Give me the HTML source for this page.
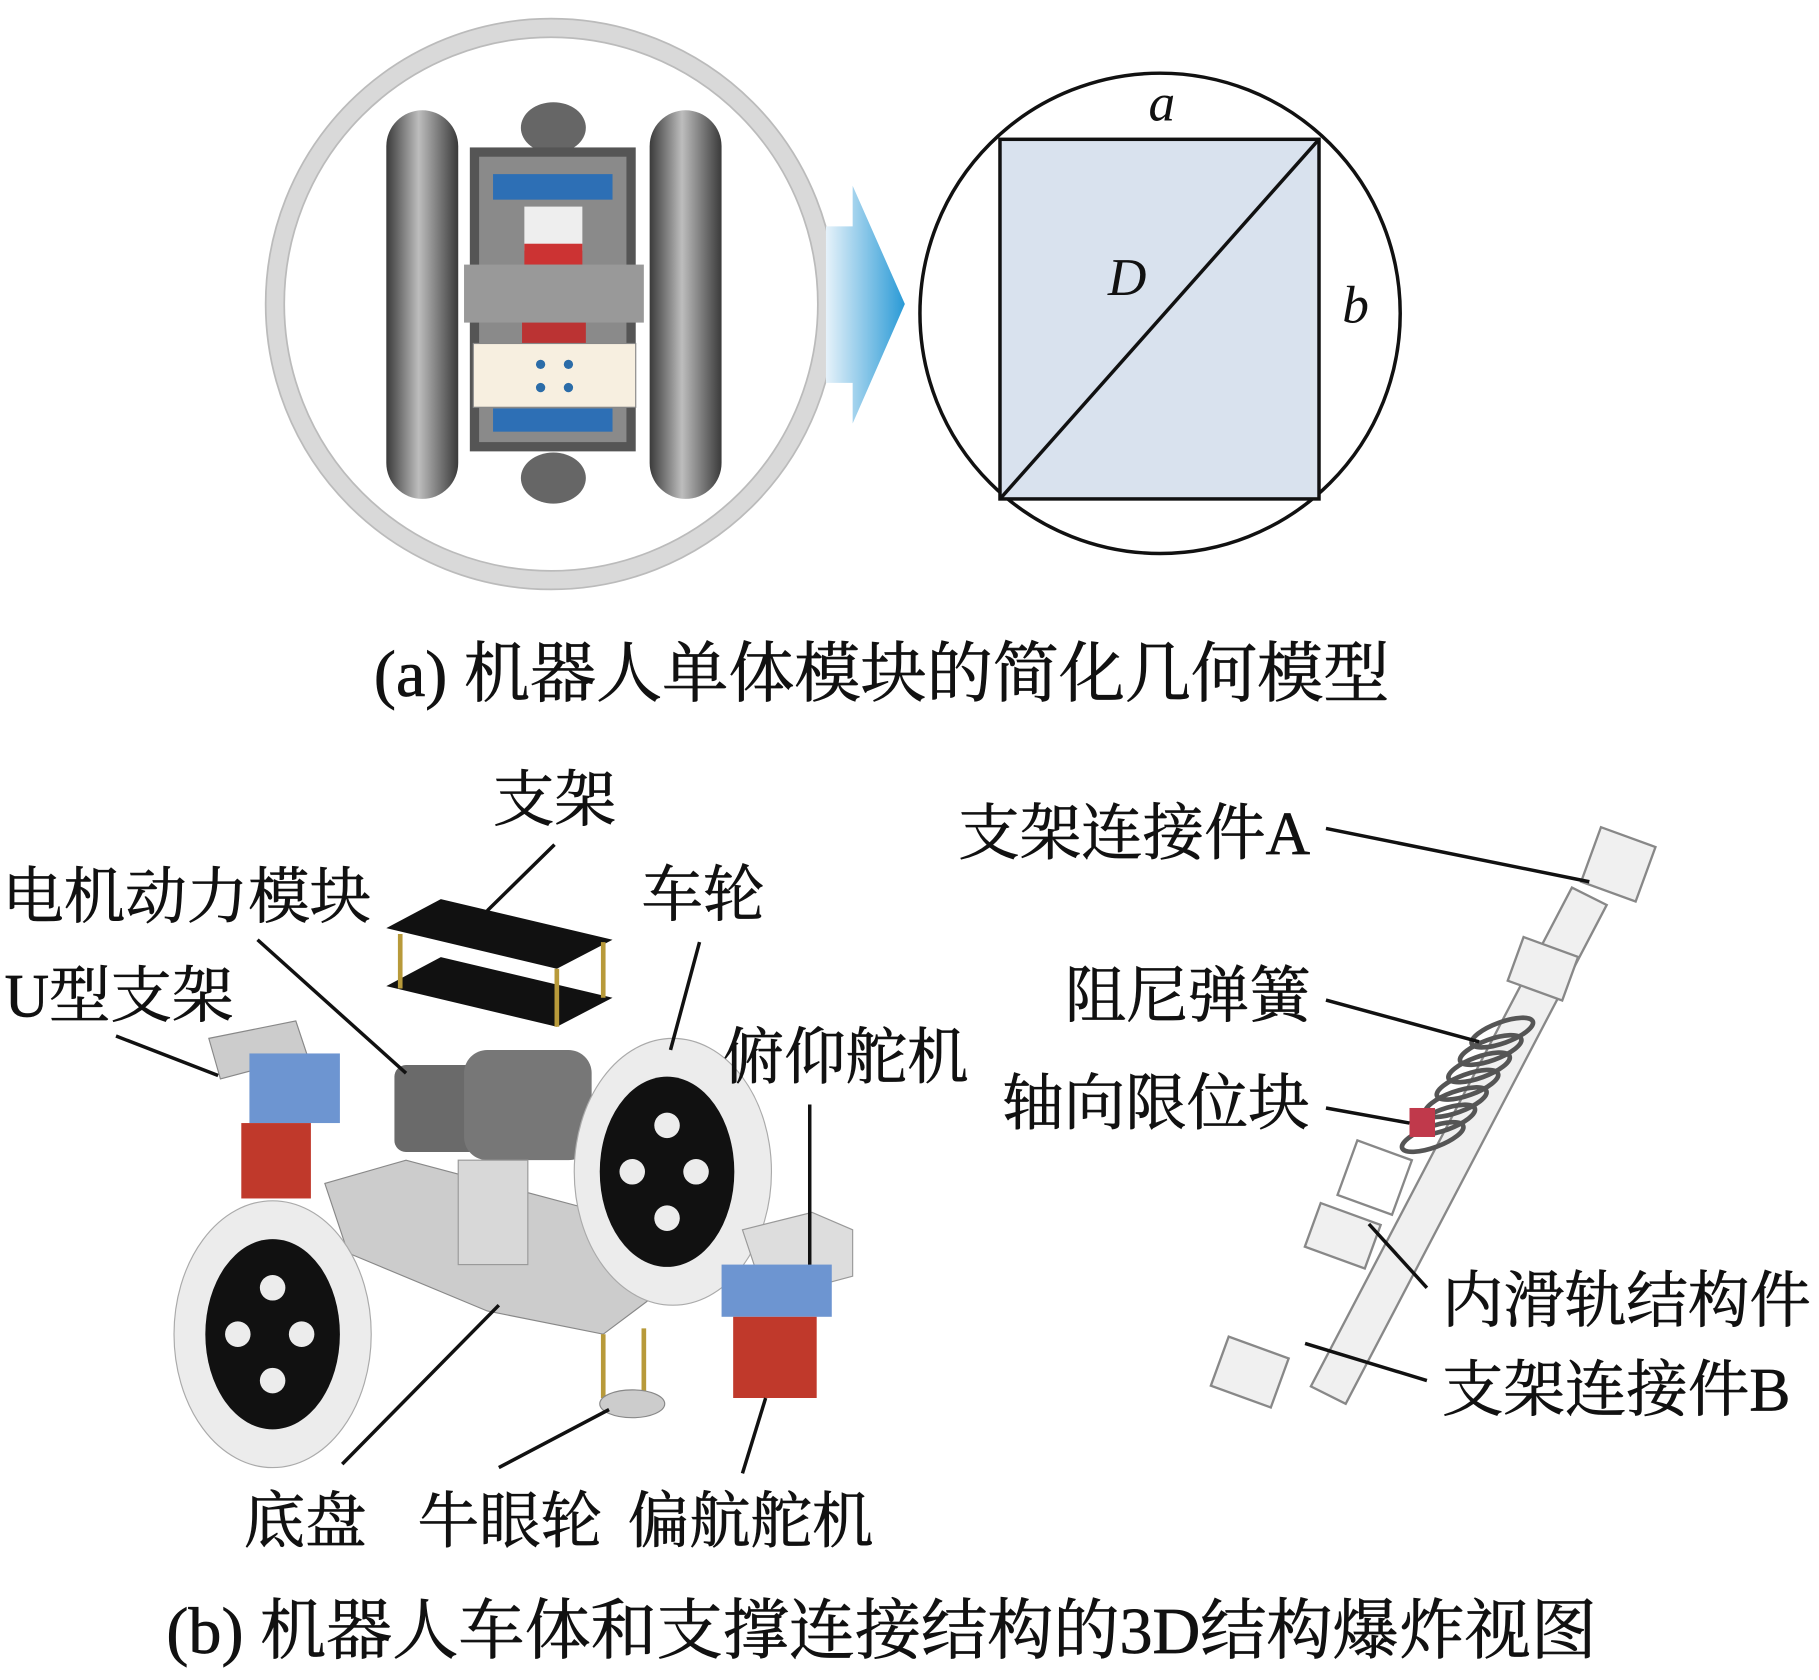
<!DOCTYPE html>
<html><head><meta charset="utf-8"><style>
html,body{margin:0;padding:0;background:#fff}
svg{display:block}
.t{font-family:"Liberation Serif","Noto Serif CJK SC","Noto Sans CJK SC",serif;font-size:53px;fill:#111;stroke:#111;stroke-width:0.6}
.c{font-size:57px}
.i{font-family:"Liberation Serif",serif;font-style:italic;font-size:46px;fill:#111}
.l{stroke:#111;stroke-width:3;fill:none}
</style></head><body>
<svg width="1819" height="1680" viewBox="0 0 1568 1448" xmlns="http://www.w3.org/2000/svg">
<defs>
<linearGradient id="ar" x1="0" x2="1"><stop offset="0" stop-color="#e6f2fa"/><stop offset="1" stop-color="#2a9ad6"/></linearGradient>
<linearGradient id="wh" x1="0" x2="1"><stop offset="0" stop-color="#3a3a3a"/><stop offset=".45" stop-color="#bdbdbd"/><stop offset="1" stop-color="#3a3a3a"/></linearGradient>
</defs>
<circle cx="475" cy="262" r="238" fill="none" stroke="#d9d9d9" stroke-width="16"/>
<circle cx="475" cy="262" r="246" fill="none" stroke="#bbb" stroke-width="1.5"/>
<circle cx="475" cy="262" r="230" fill="none" stroke="#bbb" stroke-width="1.5"/>
<rect x="333" y="95" width="62" height="335" rx="31" fill="url(#wh)"/>
<rect x="560" y="95" width="62" height="335" rx="31" fill="url(#wh)"/>
<ellipse cx="477" cy="110" rx="28" ry="22" fill="#666"/>
<ellipse cx="477" cy="412" rx="28" ry="22" fill="#666"/>
<rect x="405" y="127" width="143" height="262" fill="#555"/>
<rect x="413" y="135" width="127" height="246" fill="#8a8a8a"/>
<rect x="425" y="150" width="103" height="22" fill="#2d6fb5"/>
<rect x="425" y="352" width="103" height="20" fill="#2d6fb5"/>
<rect x="452" y="178" width="50" height="38" fill="#eee"/>
<rect x="452" y="210" width="50" height="18" fill="#c33"/>
<rect x="400" y="228" width="155" height="50" fill="#999"/>
<rect x="450" y="278" width="55" height="18" fill="#b33"/>
<rect x="408" y="296" width="140" height="55" fill="#f7efe0" stroke="#888"/>
<circle cx="466" cy="314" r="4" fill="#2b6ca8"/><circle cx="490" cy="314" r="4" fill="#2b6ca8"/>
<circle cx="466" cy="334" r="4" fill="#2b6ca8"/><circle cx="490" cy="334" r="4" fill="#2b6ca8"/>
<polygon points="712,195 735,195 735,160 780,262 735,365 735,330 712,330" fill="url(#ar)"/>
<circle cx="1000" cy="270" r="207" fill="#fff" stroke="#111" stroke-width="3"/>
<rect x="862" y="120" width="275" height="310" fill="#d9e2ee" stroke="#111" stroke-width="3"/>
<line x1="862" y1="430" x2="1137" y2="120" class="l"/>
<text x="990" y="104" class="i">a</text>
<text x="955" y="254" class="i">D</text>
<text x="1157" y="278" class="i">b</text>
<text x="760" y="600" class="t c" text-anchor="middle">(a) 机器人单体模块的简化几何模型</text>

<polygon points="333,800 380,775 528,810 480,835" fill="#111"/>
<polygon points="333,850 380,825 528,860 480,885" fill="#111"/>
<g stroke="#b89a3a" stroke-width="4"><line x1="345" y1="805" x2="345" y2="852"/><line x1="480" y1="835" x2="480" y2="885"/><line x1="520" y1="812" x2="520" y2="860"/></g>
<rect x="340" y="918" width="90" height="75" rx="10" fill="#6a6a6a"/>
<rect x="400" y="905" width="110" height="95" rx="20" fill="#777"/>
<polygon points="280,1020 350,1000 500,1040 560,1120 520,1150 420,1130 300,1080" fill="#ccc" stroke="#888"/>
<rect x="395" y="1000" width="60" height="90" fill="#d8d8d8" stroke="#999"/>
<ellipse cx="580" cy="1010" rx="85" ry="115" fill="#ececec" stroke="#aaa"/>
<ellipse cx="575" cy="1010" rx="58" ry="82" fill="#111"/>
<ellipse cx="235" cy="1150" rx="85" ry="115" fill="#ececec" stroke="#aaa"/>
<ellipse cx="235" cy="1150" rx="58" ry="82" fill="#111"/>
<g fill="#ececec"><circle cx="575" cy="970" r="11"/><circle cx="545" cy="1010" r="11"/><circle cx="600" cy="1010" r="11"/><circle cx="575" cy="1050" r="11"/>
<circle cx="235" cy="1110" r="11"/><circle cx="205" cy="1150" r="11"/><circle cx="260" cy="1150" r="11"/><circle cx="235" cy="1190" r="11"/></g>
<polygon points="180,895 255,880 265,910 190,930" fill="#ccc" stroke="#888"/>
<rect x="215" y="908" width="78" height="60" fill="#6d95d1"/>
<rect x="208" y="968" width="60" height="65" fill="#c0392b"/>
<polygon points="640,1060 700,1045 735,1060 735,1100 660,1120" fill="#ddd" stroke="#999"/>
<rect x="622" y="1090" width="95" height="45" fill="#6d95d1"/>
<rect x="632" y="1135" width="72" height="70" fill="#c0392b"/>
<g stroke="#b89a3a" stroke-width="4"><line x1="520" y1="1150" x2="520" y2="1205"/><line x1="555" y1="1145" x2="555" y2="1200"/></g>
<ellipse cx="545" cy="1210" rx="28" ry="12" fill="#ccc" stroke="#888"/>
<g stroke="#888" stroke-width="2" fill="#f0f0f0">
<polygon points="1355,765 1385,780 1160,1210 1130,1195"/>
<rect x="1370" y="720" width="50" height="50" transform="rotate(20 1395 745)"/>
<rect x="1050" y="1160" width="55" height="45" transform="rotate(20 1077 1182)"/>
<rect x="1305" y="815" width="50" height="40" transform="rotate(20 1330 835)"/>
<rect x="1130" y="1045" width="55" height="40" transform="rotate(20 1157 1065)"/>
<rect x="1160" y="990" width="50" height="50" fill="none" transform="rotate(20 1185 1015)"/>
</g>
<g stroke="#555" stroke-width="4" fill="none">
<ellipse cx="1295" cy="890" rx="28" ry="9" transform="rotate(-20 1295 890)"/>
<ellipse cx="1285" cy="905" rx="28" ry="9" transform="rotate(-20 1285 905)"/>
<ellipse cx="1275" cy="920" rx="28" ry="9" transform="rotate(-20 1275 920)"/>
<ellipse cx="1265" cy="935" rx="28" ry="9" transform="rotate(-20 1265 935)"/>
<ellipse cx="1255" cy="950" rx="28" ry="9" transform="rotate(-20 1255 950)"/>
<ellipse cx="1245" cy="965" rx="28" ry="9" transform="rotate(-20 1245 965)"/>
<ellipse cx="1235" cy="980" rx="28" ry="9" transform="rotate(-20 1235 980)"/>
</g>
<rect x="1215" y="955" width="22" height="25" fill="#c0394b"/>
<line x1="478" y1="728" x2="420" y2="785" class="l"/>
<line x1="222" y1="810" x2="350" y2="925" class="l"/>
<line x1="603" y1="812" x2="578" y2="905" class="l"/>
<line x1="100" y1="893" x2="188" y2="927" class="l"/>
<line x1="698" y1="952" x2="698" y2="1090" class="l"/>
<line x1="295" y1="1262" x2="430" y2="1125" class="l"/>
<line x1="430" y1="1265" x2="525" y2="1215" class="l"/>
<line x1="640" y1="1270" x2="660" y2="1205" class="l"/>
<line x1="1143" y1="714" x2="1370" y2="760" class="l"/>
<line x1="1143" y1="862" x2="1275" y2="898" class="l"/>
<line x1="1143" y1="955" x2="1215" y2="968" class="l"/>
<line x1="1230" y1="1110" x2="1180" y2="1055" class="l"/>
<line x1="1230" y1="1190" x2="1125" y2="1158" class="l"/>
<text x="425" y="707" class="t">支架</text>
<text x="2" y="791" class="t">电机动力模块</text>
<text x="553" y="789" class="t">车轮</text>
<text x="4" y="876" class="t">U型支架</text>
<text x="623" y="929" class="t">俯仰舵机</text>
<text x="210" y="1329" class="t">底盘</text>
<text x="360" y="1329" class="t">牛眼轮</text>
<text x="541" y="1329" class="t">偏航舵机</text>
<text x="826" y="736" class="t">支架连接件A</text>
<text x="918" y="876" class="t">阻尼弹簧</text>
<text x="864" y="969" class="t">轴向限位块</text>
<text x="1243" y="1139" class="t">内滑轨结构件</text>
<text x="1243" y="1216" class="t">支架连接件B</text>
<text x="760" y="1425" class="t c" text-anchor="middle">(b) 机器人车体和支撑连接结构的3D结构爆炸视图</text>
</svg>
</body></html>
